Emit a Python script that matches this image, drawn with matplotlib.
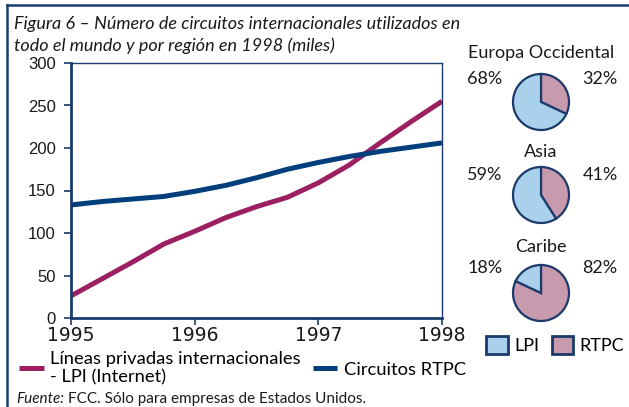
import matplotlib.pyplot as plt
from matplotlib.patches import Patch
from matplotlib.lines import Line2D

plt.rcParams['font.family'] = ['Lato', 'DejaVu Sans']

years = [1995, 1995.25, 1995.5, 1995.75, 1996, 1996.25, 1996.5, 1996.75,
         1997, 1997.25, 1997.5, 1997.75, 1998]
lpi = [26, 46, 66, 87, 102, 118, 131, 142, 159, 180, 206, 231, 255]
rtpc = [133, 137, 140, 143, 149, 156, 165, 175, 183, 190, 196, 201, 206]

regions = ['Europa Occidental', 'Asia', 'Caribe']
pie_lpi = [68, 59, 18]
pie_rtpc = [32, 41, 82]

navy = '#1b3a6b'
c_lpi = '#9c1f62'
c_rtpc = '#003f7c'
c_pie_lpi = '#a9d1ec'
c_pie_rtpc = '#c89aae'
txt = '#1a1a1a'
W, H = 629, 407

fig = plt.figure(figsize=(W / 100, H / 100), dpi=100)

def fx(px):
    return px / W

def fy(py):
    return 1 - py / H

# frame round the figure
fig.add_artist(Line2D([fx(7), 1], [fy(5), fy(5)], color=navy, lw=1.8))
fig.add_artist(Line2D([fx(7), fx(7)], [fy(5), 0], color=navy, lw=1.8))

fig.text(fx(14), fy(29), 'Figura 6 – Número de circuitos internacionales utilizados en',
         fontsize=13, style='italic', color=txt, va='baseline')
fig.text(fx(14), fy(51), 'todo el mundo y por región en 1998 (miles)',
         fontsize=13, style='italic', color=txt, va='baseline')

ax = fig.add_axes([fx(71), fy(318), fx(442) - fx(71), fy(63) - fy(318)])
l1, = ax.plot(years, lpi, color=c_lpi, lw=3.6, solid_capstyle='butt')
l2, = ax.plot(years, rtpc, color=c_rtpc, lw=3.6, solid_capstyle='butt')
ax.set_xlim(1995, 1998)
ax.set_ylim(0, 300)
ax.set_xticks([1995, 1996, 1997, 1998])
ax.set_yticks(range(0, 301, 50))
for s in ['left', 'bottom']:
    ax.spines[s].set_color(navy)
    ax.spines[s].set_linewidth(2)
for s in ['top', 'right']:
    ax.spines[s].set_color(navy)
    ax.spines[s].set_linewidth(1)
ax.tick_params(axis='both', colors=navy, labelcolor=txt, length=5, width=1.2, direction='out')
ax.tick_params(axis='y', pad=6)
ax.tick_params(axis='x', pad=1)
for lab in ax.get_yticklabels():
    lab.set_fontfamily('Liberation Sans')
    lab.set_fontsize(12)
for lab in ax.get_xticklabels():
    lab.set_fontfamily('DejaVu Sans')
    lab.set_fontsize(13.5)

fig.legend([l1, l2], ['Líneas privadas internacionales\n- LPI (Internet)', 'Circuitos RTPC'],
           loc='upper left', bbox_to_anchor=(fx(19), fy(351)), ncol=2, frameon=False,
           fontsize=13.2, handlelength=1.35, handletextpad=0.35, columnspacing=0.65,
           borderaxespad=0, borderpad=0, labelspacing=0.2)

fig.text(fx(16), fy(399), 'Fuente:', fontsize=11, style='italic', color=txt, va='center')
fig.text(fx(68), fy(399), 'FCC. Sólo para empresas de Estados Unidos.', fontsize=11,
         color=txt, va='center')

# pies
cx, r = 541, 35
centres = [102, 195, 293]
title_y = [53, 152, 247]
pct_y = [79, 175, 268]
for i in range(len(regions)):
    pax = fig.add_axes([fx(cx - r), fy(centres[i] + r), fx(2 * r), fy(centres[i] - r) - fy(centres[i] + r)])
    pax.pie([pie_rtpc[i], pie_lpi[i]], colors=[c_pie_rtpc, c_pie_lpi], startangle=90,
            counterclock=False, wedgeprops=dict(edgecolor=navy, linewidth=1.6))
    pax.set_aspect('equal')
    fig.text(fx(cx), fy(title_y[i]), regions[i], fontsize=13, ha='center', va='center', color=txt)
    fig.text(fx(485), fy(pct_y[i]), f'{pie_lpi[i]}%', fontsize=13, ha='center', va='center', color=txt)
    fig.text(fx(600), fy(pct_y[i]), f'{pie_rtpc[i]}%', fontsize=13, ha='center', va='center', color=txt)

fig.legend([Patch(facecolor=c_pie_lpi, edgecolor=navy, lw=2), Patch(facecolor=c_pie_rtpc, edgecolor=navy, lw=2)],
           ['LPI', 'RTPC'], loc='center left', bbox_to_anchor=(fx(486), fy(345)), ncol=2,
           frameon=False, fontsize=13, handlelength=1.2, handleheight=1.2, handletextpad=0.35,
           columnspacing=0.7, borderaxespad=0, borderpad=0)

fig.savefig('out.png', dpi=100)
